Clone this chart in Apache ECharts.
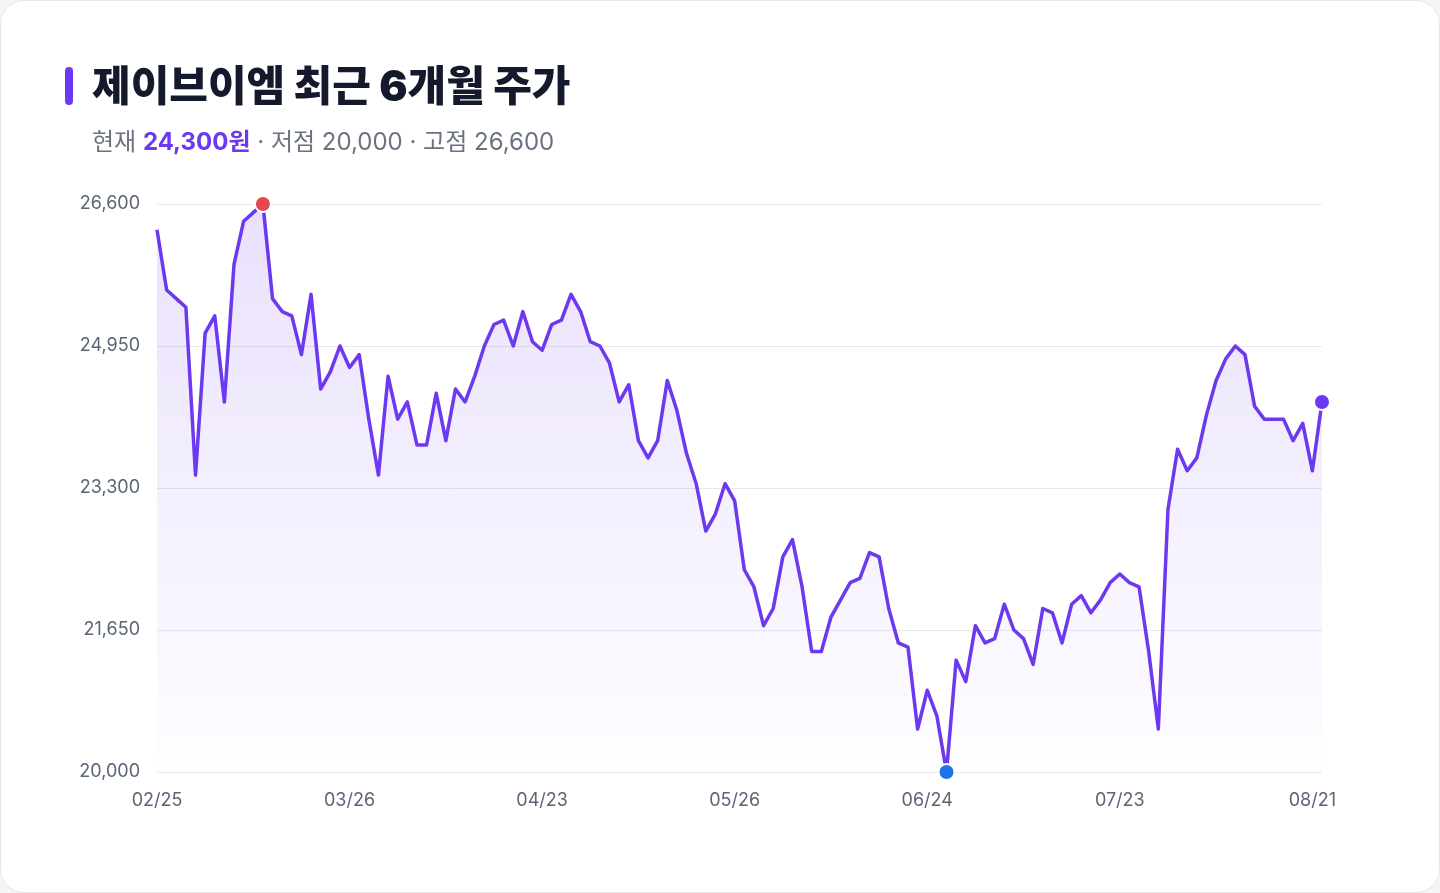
<!DOCTYPE html>
<html>
<head>
<meta charset="utf-8">
<script src="https://cdn.jsdelivr.net/npm/echarts@6/dist/echarts.min.js"></script>
<style>
  html, body { margin: 0; padding: 0; background: #f4f5f7; }
  #card {
    position: absolute; left: 0; top: 0; width: 1438px; height: 891px;
    background: #ffffff; border: 1px solid #e6e8ec; border-radius: 24px; overflow: hidden;
  }
  #chart { position: absolute; left: -1px; top: -1px; width: 1440px; height: 893px; }
</style>
</head>
<body>
<div id="card"><div id="chart"></div></div>
<script>
const titleText = '제이브이엠 최근 6개월 주가';
const currentLabel = '24,300원';
const lowLabel = '20,000';
const highLabel = '26,600';

const dates = [
  '02/25','02/26','02/27','02/28',
  '03/04','03/05','03/06','03/07',
  '03/10','03/11','03/12','03/13','03/14',
  '03/17','03/18','03/19','03/20','03/21',
  '03/24','03/25','03/26','03/27','03/28',
  '03/31','04/01','04/02','04/03','04/04',
  '04/07','04/08','04/09','04/10','04/11',
  '04/14','04/15','04/16','04/17','04/18',
  '04/21','04/22','04/23','04/24','04/25',
  '04/28','04/29','04/30',
  '05/02',
  '05/07','05/08','05/09',
  '05/12','05/13','05/14','05/15','05/16',
  '05/19','05/20','05/21','05/22','05/23',
  '05/26','05/27','05/28','05/29','05/30',
  '06/02','06/03','06/04','06/05',
  '06/09','06/10','06/11','06/12','06/13',
  '06/16','06/17','06/18','06/19','06/20',
  '06/23','06/24','06/25','06/26','06/27',
  '06/30','07/01','07/02','07/03','07/04',
  '07/07','07/08','07/09','07/10','07/11',
  '07/14','07/15','07/16','07/18',
  '07/21','07/22','07/23','07/24','07/25',
  '07/28','07/29','07/30','07/31','08/01',
  '08/04','08/05','08/06','08/07','08/08',
  '08/11','08/12','08/13','08/14',
  '08/18','08/19','08/20','08/21','08/22'
];

const prices = [
  26300, 25600, 25500, 25400, 23450, 25100, 25300, 24300, 25900, 26400,
  26500, 26600, 25500, 25350, 25300, 24850, 25550, 24450, 24650, 24950,
  24700, 24850, 24100, 23450, 24600, 24100, 24300, 23800, 23800, 24400,
  23850, 24450, 24300, 24600, 24950, 25200, 25250, 24950, 25350, 25000,
  24900, 25200, 25250, 25550, 25350, 25000, 24950, 24750, 24300, 24500,
  23850, 23650, 23850, 24550, 24200, 23700, 23350, 22800, 23000, 23350,
  23150, 22350, 22150, 21700, 21900, 22500, 22700, 22150, 21400, 21400,
  21800, 22000, 22200, 22250, 22550, 22500, 21900, 21500, 21450, 20500,
  20950, 20650, 20000, 21300, 21050, 21700, 21500, 21550, 21950, 21650,
  21550, 21250, 21900, 21850, 21500, 21950, 22050, 21850, 22000, 22200,
  22300, 22200, 22150, 21400, 20500, 23050, 23750, 23500, 23650, 24150,
  24550, 24800, 24950, 24850, 24250, 24100, 24100, 24100, 23850, 24050,
  23500, 24300
];

const yTicks = [20000, 21650, 23300, 24950, 26600];

const PURPLE = '#6c38f0';
const chart = echarts.init(document.getElementById('chart'));
const fontFam = 'Inter, "Noto Sans CJK KR", "Noto Sans", sans-serif';

chart.setOption({
  animation: false,
  textStyle: { fontFamily: fontFam },
  title: {
    text: titleText,
    left: 92, top: 62,
    padding: 0,
    textStyle: { fontSize: 42, fontWeight: 900, color: '#141a2b', fontFamily: fontFam, lineHeight: 52 },
    subtext: '{g|현재 }{p|' + currentLabel + '}{g| · 저점 ' + lowLabel + ' · 고점 ' + highLabel + '}',
    itemGap: 17,
    subtextStyle: {
      rich: {
        g: { fontSize: 24, color: '#6b7280', fontFamily: fontFam },
        p: { fontSize: 24, color: PURPLE, fontWeight: 'bold', fontFamily: fontFam }
      }
    }
  },
  graphic: [{
    type: 'rect', left: 65, top: 67,
    shape: { width: 8, height: 38, r: 4 },
    style: { fill: PURPLE }
  }],
  grid: { left: 157, right: 118, top: 204, bottom: 121 },
  xAxis: {
    type: 'category',
    data: dates,
    boundaryGap: false,
    axisLine: { show: false },
    axisTick: { show: false },
    axisLabel: { interval: 19, color: '#5b6577', fontSize: 18, margin: 20, fontFamily: fontFam }
  },
  yAxis: {
    type: 'value',
    min: yTicks[0],
    max: yTicks[yTicks.length - 1],
    interval: yTicks[1] - yTicks[0],
    axisLine: { show: false },
    axisTick: { show: false },
    splitLine: { lineStyle: { color: '#e8e9ee', width: 1 } },
    axisLabel: {
      color: '#5b6577', fontSize: 18, margin: 17, fontFamily: fontFam,
      formatter: v => v.toLocaleString('en-US')
    }
  },
  series: [{
    type: 'line',
    data: prices,
    showSymbol: false,
    lineStyle: { color: PURPLE, width: 3.5, join: 'round' },
    itemStyle: { color: PURPLE },
    areaStyle: {
      color: new echarts.graphic.LinearGradient(0, 0, 0, 1, [
        { offset: 0, color: 'rgba(124, 72, 240, 0.24)' },
        { offset: 1, color: 'rgba(124, 72, 240, 0.01)' }
      ])
    },
    markPoint: {
      symbol: 'circle',
      symbolSize: 16,
      label: { show: false },
      data: [
        { type: 'max', itemStyle: { color: '#e5484d', borderColor: '#fff', borderWidth: 2 } },
        { type: 'min', itemStyle: { color: '#1f73e8', borderColor: '#fff', borderWidth: 2 } },
        { coord: [dates[dates.length - 1], prices[prices.length - 1]], itemStyle: { color: PURPLE, borderColor: '#fff', borderWidth: 2 } }
      ]
    }
  }]
});
</script>
</body>
</html>
